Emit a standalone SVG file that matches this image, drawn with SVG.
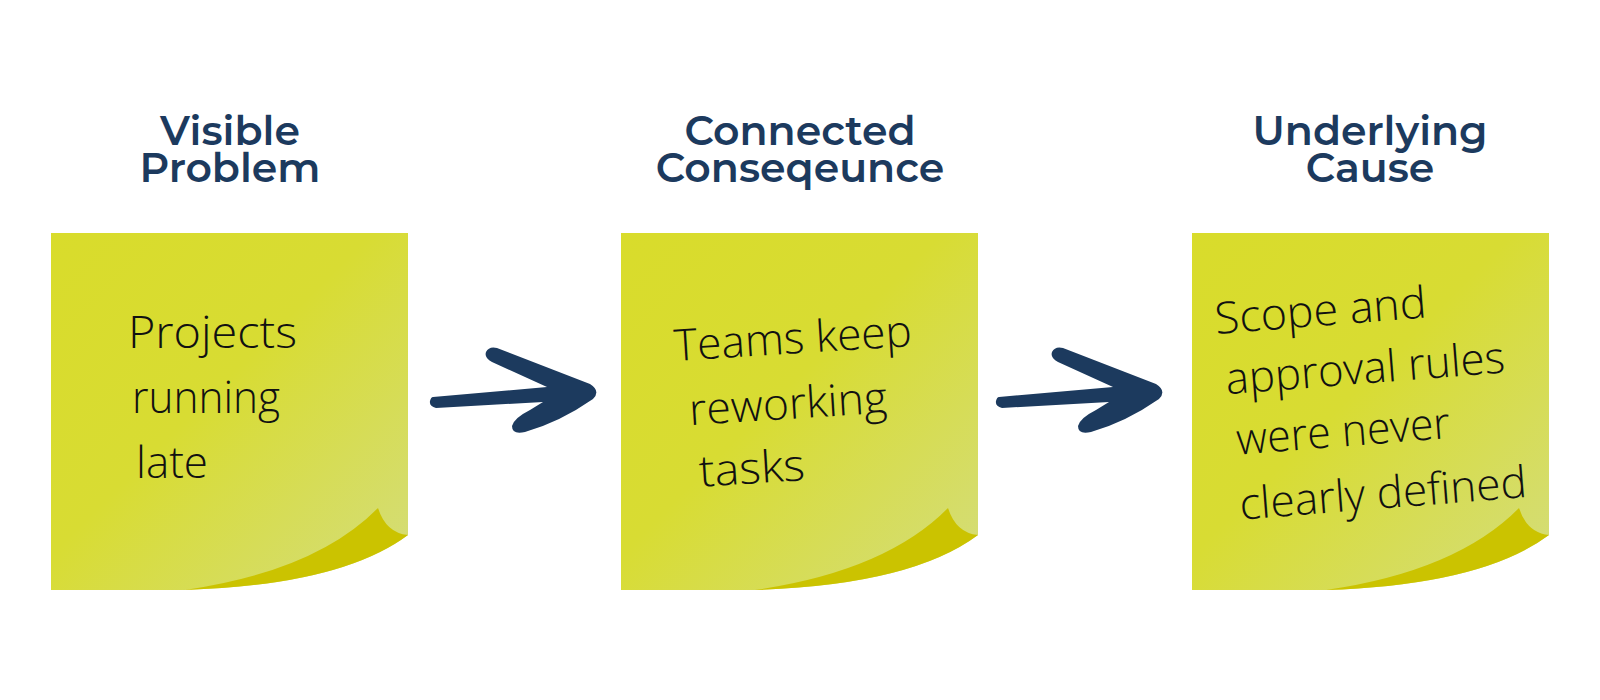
<svg xmlns="http://www.w3.org/2000/svg" width="1600" height="700" viewBox="0 0 1600 700">
  <defs>
    <linearGradient id="noteGrad" x1="0" y1="0" x2="1" y2="1">
      <stop offset="0" stop-color="#d9dc2b"/>
      <stop offset="0.45" stop-color="#d8dc33"/>
      <stop offset="1" stop-color="#d4dd7c"/>
    </linearGradient>
    <path id="noteShape" d="M0,0 H357 V302 Q290,352 134,357 H0 Z"/>
    <path id="foldShape" d="M327,275 Q335,300 357,302 Q290,352 134,357 Q265,338 327,275 Z"/>
    <path id="arrowShape" d="M433,397 L547,387 L492,362 Q484,358 486,352 Q489,346 497,348 L590,384 Q601,391 593,399 Q560,422 525,432 Q512,435 512,426 Q514,418 530,410 L543,402 L436,408 Q429,406 430,401 Q431,397 433,397 Z"/>
  </defs>
  <style>
    .head { font-family: "Montserrat", "Inter", "Liberation Sans", sans-serif; font-weight: 600; font-size: 41px; fill: #1c3a5e; text-anchor: middle; }
    .hand { font-family: "Open Sans", "Noto Sans", "DejaVu Sans", sans-serif; font-weight: 300; font-size: 44px; fill: #111111; }
    .note { fill: url(#noteGrad); }
    .fold { fill: #cbc300; }
    .arrow { fill: #1c3a5e; }
  </style>
  <rect width="1600" height="700" fill="#ffffff"/>

  <g id="node-visible-problem">
    <text class="head"><tspan x="230" y="145">Visible</tspan><tspan x="230" y="182">Problem</tspan></text>
    <g transform="translate(51,233)">
      <use href="#noteShape" class="note"/>
      <use href="#foldShape" class="fold"/>
    </g>
    <text class="hand" x="128" y="348" textLength="169" lengthAdjust="spacingAndGlyphs">Projects</text>
    <text class="hand" x="132" y="413" textLength="148" lengthAdjust="spacingAndGlyphs">running</text>
    <text class="hand" x="136" y="478" textLength="72" lengthAdjust="spacingAndGlyphs">late</text>
  </g>

  <g id="node-connected-consequence">
    <text class="head"><tspan x="800" y="145">Connected</tspan><tspan x="800" y="182">Conseqeunce</tspan></text>
    <g transform="translate(621,233)">
      <use href="#noteShape" class="note"/>
      <use href="#foldShape" class="fold"/>
    </g>
    <g transform="rotate(-3.6 675 361)">
      <text class="hand" x="675" y="361" textLength="238" lengthAdjust="spacingAndGlyphs">Teams keep</text>
      <text class="hand" x="686" y="426" textLength="198" lengthAdjust="spacingAndGlyphs">reworking</text>
      <text class="hand" x="692" y="488" textLength="106" lengthAdjust="spacingAndGlyphs">tasks</text>
    </g>
  </g>

  <g id="node-underlying-cause">
    <text class="head"><tspan x="1370" y="145">Underlying</tspan><tspan x="1370" y="182">Cause</tspan></text>
    <g transform="translate(1192,233)">
      <use href="#noteShape" class="note"/>
      <use href="#foldShape" class="fold"/>
    </g>
    <g transform="rotate(-4.5 1216 334)">
      <text class="hand" x="1216" y="334" textLength="212" lengthAdjust="spacingAndGlyphs">Scope and</text>
      <text class="hand" x="1222" y="395" textLength="280" lengthAdjust="spacingAndGlyphs">approval rules</text>
      <text class="hand" x="1228" y="456" textLength="214" lengthAdjust="spacingAndGlyphs">were never</text>
      <text class="hand" x="1226" y="521" textLength="288" lengthAdjust="spacingAndGlyphs">clearly defined</text>
    </g>
  </g>

  <g id="connectors">
    <use href="#arrowShape" class="arrow"/>
    <use href="#arrowShape" class="arrow" transform="translate(566,0)"/>
  </g>
</svg>
